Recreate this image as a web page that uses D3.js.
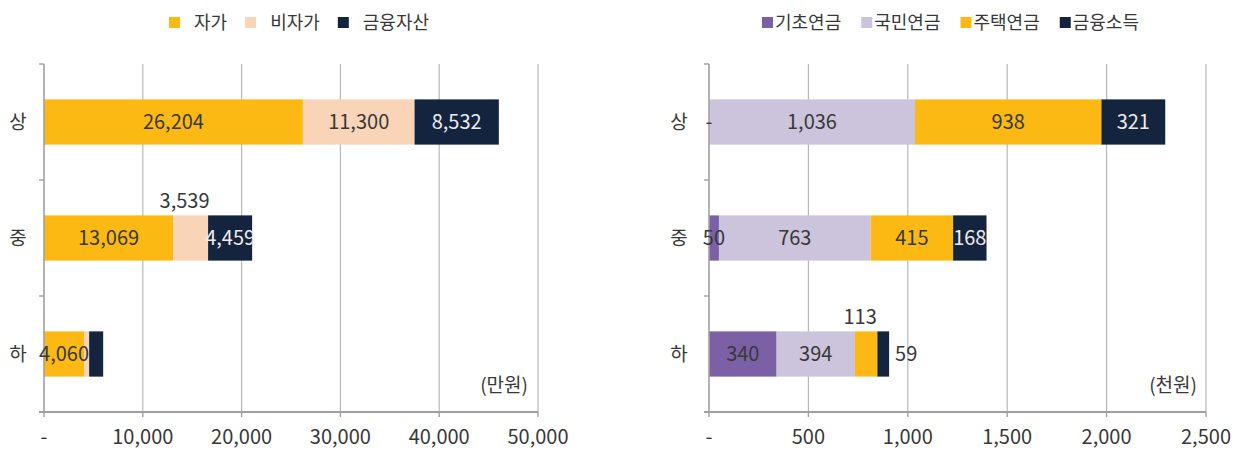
<!DOCTYPE html>
<html><head><meta charset="utf-8">
<script src="https://cdn.jsdelivr.net/npm/d3@7/dist/d3.min.js"></script>
<style>
body{margin:0;background:#fff;}
svg{display:block;font-family:"Noto Sans CJK KR","Noto Sans",sans-serif;}
</style></head>
<body><svg id="c" width="1240" height="450"></svg>
<script>
// ---------- data ----------
const categories = ["상", "중", "하"];

// left chart (만원)
const assetSeries = ["자가", "비자가", "금융자산"];
const assetColors = ["#FDB913", "#F9D4B7", "#15243E"];
const ownHome   = [26204, 13069, 4060];
const nonHome   = [11300, 3539, 510];
const finAsset  = [8532, 4459, 1420];
const assetTicks = [0, 10000, 20000, 30000, 40000, 50000];
const assetLabelPos = [ // per category, per series
  ["in", "in", "in"],
  ["in", "above", "in"],
  ["in", "none", "none"]
];
const assetUnit = "(만원)";

// right chart (천원)
const incomeSeries = ["기초연금", "국민연금", "주택연금", "금융소득"];
const incomeColors = ["#7B60A6", "#CCC3DC", "#FDB913", "#15243E"];
const basicPension    = [0, 50, 340];
const nationalPension = [1036, 763, 394];
const housingPension  = [938, 415, 113];
const finIncome       = [321, 168, 59];
const incomeTicks = [0, 500, 1000, 1500, 2000, 2500];
const incomeLabelPos = [
  ["in", "in", "in", "in"],
  ["in", "in", "in", "in"],
  ["in", "in", "above", "right"]
];
const incomeUnit = "(천원)";

// ---------- drawing ----------
const svg = d3.select("#c");
const fmt = v => v === 0 ? "-" : d3.format(",")(v);
const textCol = "#383838";
const numSize = 20;

function drawChart(cfg, idx) {
  const g = svg.append("g");
  const x = d3.scaleLinear().domain([0, cfg.ticks[cfg.ticks.length - 1]]).range(cfg.xr);
  const y = d3.scaleBand().domain(categories).range([64, 412]).paddingInner(0.61).paddingOuter(0.305);
  const yTop = 64, yBot = 412;

  // gridlines
  g.selectAll(".grid").data(cfg.ticks.slice(1)).join("line")
    .attr("x1", d => x(d)).attr("x2", d => x(d))
    .attr("y1", yTop).attr("y2", yBot)
    .attr("stroke", "#B8B8B8").attr("stroke-width", 1.2);

  // stacked data
  const rows = categories.map((c, i) => {
    let acc = 0;
    return cfg.values.map((arr, s) => {
      const seg = {cat: c, ci: i, s, v: arr[i], x0: acc, x1: acc + arr[i]};
      acc += arr[i];
      return seg;
    });
  });
  const segs = rows.flat();

  g.selectAll(".bar").data(segs).join("rect")
    .attr("x", d => x(d.x0)).attr("width", d => x(d.x1) - x(d.x0))
    .attr("y", d => y(d.cat)).attr("height", y.bandwidth())
    .attr("fill", d => cfg.colors[d.s]);

  // axes
  const ax = g.append("g");
  ax.append("line").attr("x1", x(0)).attr("x2", x(0)).attr("y1", yTop).attr("y2", yBot)
    .attr("stroke", "#A0A0A0").attr("stroke-width", 1.6);
  const bounds = [yTop, ...categories.slice(1).map(c => y(c) - y.step() * y.paddingInner() / 2)];
  ax.selectAll(".yt").data(bounds).join("line")
    .attr("x1", x(0) - 5).attr("x2", x(0)).attr("y1", d => d).attr("y2", d => d)
    .attr("stroke", "#A0A0A0").attr("stroke-width", 1.4);
  ax.append("line").attr("x1", x(0) - 5).attr("x2", x(cfg.ticks[cfg.ticks.length - 1]))
    .attr("y1", yBot).attr("y2", yBot).attr("stroke", "#A0A0A0").attr("stroke-width", 2);
  ax.selectAll(".xt").data(cfg.ticks).join("line")
    .attr("x1", d => x(d)).attr("x2", d => x(d)).attr("y1", yBot).attr("y2", yBot + 5)
    .attr("stroke", "#A0A0A0").attr("stroke-width", 1.4);
  ax.selectAll(".xl").data(cfg.ticks).join("text")
    .attr("x", d => x(d)).attr("y", 444).attr("text-anchor", "middle")
    .attr("font-size", numSize).attr("fill", textCol).text(fmt);

  // category labels
  g.selectAll(".cl").data(categories).join("text")
    .attr("x", x(0) - cfg.catGap).attr("y", d => y(d) + y.bandwidth() / 2 + 7)
    .attr("text-anchor", "middle").attr("font-size", 19).attr("fill", textCol).text(d => d);

  // clip paths per row
  rows.forEach((r, i) => {
    svg.append("clipPath").attr("id", `clip${idx}_${i}`).append("rect")
      .attr("x", 0).attr("y", 0).attr("width", x(r[r.length - 1].x1)).attr("height", 450);
  });

  // labels
  segs.forEach(d => {
    const pos = cfg.labelPos[d.ci][d.s];
    if (pos === "none") return;
    const cx = (x(d.x0) + x(d.x1)) / 2;
    const cy = y(d.cat) + y.bandwidth() / 2;
    const t = g.append("text").attr("font-size", numSize).text(fmt(d.v));
    if (pos === "in") {
      t.attr("x", cx).attr("y", cy + 7).attr("text-anchor", "middle")
        .attr("fill", d.s === cfg.values.length - 1 ? "#EDEDED" : textCol)
        .attr("clip-path", `url(#clip${idx}_${d.ci})`);
    } else if (pos === "above") {
      t.attr("x", cx - 6).attr("y", y(d.cat) - 7).attr("text-anchor", "middle").attr("fill", textCol);
    } else if (pos === "right") {
      t.attr("x", x(d.x1) + 6).attr("y", cy + 7).attr("text-anchor", "start").attr("fill", textCol);
    }
  });

  // unit
  g.append("text").attr("x", cfg.unitX).attr("y", 392).attr("text-anchor", "end")
    .attr("font-size", 19).attr("fill", textCol).text(cfg.unit);

  // legend
  const lg = g.append("g");
  let lx = cfg.legendX;
  cfg.series.forEach((s, i) => {
    lg.append("rect").attr("x", lx).attr("y", 17).attr("width", 11).attr("height", 11).attr("fill", cfg.colors[i]);
    const t = lg.append("text").attr("x", lx + cfg.legendTextGap).attr("y", 29)
      .attr("font-size", 18).attr("fill", textCol).text(s);
    lx += cfg.legendTextGap + t.node().getComputedTextLength() + cfg.legendGap;
  });
}

drawChart({
  series: assetSeries, colors: assetColors, values: [ownHome, nonHome, finAsset],
  ticks: assetTicks, xr: [44, 538], labelPos: assetLabelPos, unit: assetUnit, unitX: 528,
  catGap: 26, legendX: 169, legendTextGap: 25, legendGap: 18
}, 0);

drawChart({
  series: incomeSeries, colors: incomeColors, values: [basicPension, nationalPension, housingPension, finIncome],
  ticks: incomeTicks, xr: [709, 1206], labelPos: incomeLabelPos, unit: incomeUnit, unitX: 1197,
  catGap: 30, legendX: 762, legendTextGap: 13, legendGap: 20
}, 1);
</script>
</body></html>
